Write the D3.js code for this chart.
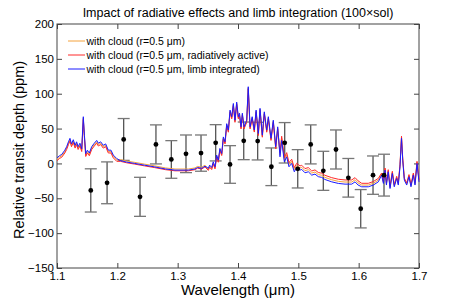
<!DOCTYPE html>
<html>
<head>
<meta charset="utf-8">
<title>Transit depth</title>
<script src="https://cdn.jsdelivr.net/npm/d3@7"></script>
<style>
body { margin: 0; background: #fff; }
text { font-family: "Liberation Sans", Arial, sans-serif; }
</style>
</head>
<body>
<svg id="chart" width="463" height="308"></svg>
<script>

// model spectra
var wl = [1.100,1.104,1.108,1.113,1.116,1.119,1.1215,1.124,1.127,1.130,1.1325,1.135,1.138,1.141,1.1436,1.1455,1.1476,1.1503,1.1536,1.1575,
  1.1618,1.1658,1.1685,1.1724,1.1767,1.1807,1.185,1.1895,1.1933,1.199,1.205,1.215,1.229,1.245,1.262,1.28,1.2956,1.3177,1.3287,1.333,
  1.3398,1.3453,1.3508,1.353,1.3564,1.359,1.3619,1.3646,1.3674,1.370,1.373,1.3757,1.3785,1.3813,1.384,1.3868,1.3896,1.3923,1.395,1.3978,
  1.4005,1.4025,1.405,1.4072,1.410,1.4144,1.417,1.420,1.4235,1.427,1.430,1.4337,1.4365,1.4403,1.4436,1.4476,1.4503,1.4547,1.4585,1.4625,
  1.4658,1.4696,1.4724,1.4768,1.4807,1.4845,1.489,1.4933,1.4973,1.5028,1.5056,1.511,1.5166,1.5222,1.5276,1.5331,1.5387,1.544,1.5553,1.5663,
  1.5774,1.5885,1.594,1.599,1.605,1.616,1.6243,1.6326,1.638,1.641,1.6437,1.646,1.649,1.652,1.6558,1.659,1.663,1.6657,1.6685,1.671,
  1.673,1.6757,1.6796,1.6834,1.6867,1.6906,1.6934,1.6967,1.700];

var cloud = [6,9,11,17,22,29,34,26,32,24,29,22,27,19,65,38,12,17,13,22,
  27,31,27,29,24,26,17,17,10,5,5.5,3.5,1.5,-1,-3.5,-6.5,-8,-8,-6.5,-4.3,
  -5.5,-2.5,-8.5,-3.9,-7.3,0.8,-6.3,10.5,3.2,20,12.8,36.5,29.5,55.5,46.3,75,65.5,84.5,60.5,86.5,
  65.5,70.5,51,70.5,51,60.5,108.5,51,65.5,46.5,75,41.5,77.5,39.1,72.5,46.3,65.5,34.5,60.5,22.5,
  51,12.5,36,5.3,12.5,-1.8,3,-9,-2.8,-6.6,-5.6,-10.4,-9,-13.8,-12.3,-16,-17,-20,-23.4,-25.7,
  -26.7,-26.7,-23.4,-28,-31,-31,-28.5,-23.9,-15.3,-27.2,-8.1,-29.5,-10.5,-34.5,-12.8,-32,-20,-29.5,-3.3,37.5,
  6.2,-22.5,-29.5,-17.5,-32,-15.3,-29.5,1.5,-24.9];

var cloudRad = [4,7,9,15,20,27,32,24,30,22,27,20,25,17,63,36,10,15,11,20,
  25,29,25,27,22,24,15,15,8,3,3,1,-1,-3.5,-6,-9,-10.6,-10.6,-9,-6.8,
  -8,-5,-10,-5.4,-8.8,-0.7,-7.8,9,1.7,18.5,11.3,35,28,54,44.8,73.5,64,83,59,85,
  64,69,49.5,69,49.5,59,107,49.5,64,45,73.5,40,76,37.6,71,44.8,64,33,59,21,
  49.5,15.5,39,8.3,15.5,1.2,6,-6,0.2,-3.6,-2.6,-7.4,-6,-10.8,-9.3,-13,-14,-17,-20.4,-22.7,
  -23.7,-23.7,-20.4,-25,-28.5,-28.5,-26,-21.4,-13.8,-25.7,-6.6,-28,-9,-33,-11.3,-30.5,-18.5,-28,-1.8,39,
  7.7,-21,-28,-16,-30.5,-13.8,-28,3,-23.4];

var cloudLimb = [8,11,13,19,24,31,36,28,34,26,31,24,29,21,67,40,14,19,15,24,
  29,33,29,31,26,28,19,19,12,7,4,2,0,-2.5,-5,-8,-9.6,-9.6,-8,-5.8,
  -7,-4,-7,-2.4,-5.8,2.3,-4.8,12,4.7,21.5,14.3,38,31,57,47.8,76.5,67,86,62,88,
  67,72,52.5,72,52.5,62,110,52.5,67,48,76.5,43,79,40.6,74,47.8,67,36,62,24,
  52.5,9.5,33,2.3,9.5,-4.8,0,-12,-5.8,-9.6,-8.6,-13.4,-12,-16.8,-15.3,-19,-20,-23,-26.4,-28.7,
  -29.7,-29.7,-26.4,-31,-33.5,-33.5,-31,-26.4,-16.8,-28.7,-9.6,-31,-12,-36,-14.3,-33.5,-21.5,-31,-4.8,36,
  4.7,-24,-31,-19,-33.5,-16.8,-31,0,-26.4];

// observed points with 1-sigma errors
var obsWl  = [1.156,1.183,1.2105,1.2376,1.264,1.2895,1.3138,1.3387,1.363,1.3868,1.4095,1.4326,1.4553,1.4774,1.499,1.5205,1.5414,1.5624,1.5829,1.6034,1.6238,1.642];
var obsVal = [-38.7,-27.8,34.4,-47.9,27.3,5.7,13.8,14.8,29.6,-1.5,32.4,32,-4.8,29.6,-7.7,27.3,-10.6,20,-20.6,-65,-16.8,-16.8];
var obsErr = [31,30,30,28,28,27,27,26,26,27,27,27,27,29,27.5,28,28,28,27.7,27.5,27.5,30];

var xTicks = [1.1,1.2,1.3,1.4,1.5,1.6,1.7];
var yTicks = [-150,-100,-50,0,50,100,150,200];

var seriesNames = ["with cloud (r=0.5 \u03bcm)", "with cloud (r=0.5 \u03bcm, radiatively active)", "with cloud (r=0.5 \u03bcm, limb integrated)"];
var seriesColors = ["#f4a23c", "#ff2a2a", "#1a1aff"];

var pL = 57, pR = 419, pT = 24, pB = 268;

var svg = d3.select("#chart");

var x = d3.scaleLinear().domain([1.1, 1.7]).range([pL, pR]);
var y = d3.scaleLinear().domain([-150, 200]).range([pB, pT]);

var axisColor = "#444";

// title
svg.append("text")
  .attr("x", (pL + pR) / 2).attr("y", 17)
  .attr("text-anchor", "middle")
  .style("font-size", "12.5px")
  .text("Impact of radiative effects and limb integration (100\u00d7sol)");

// axes, ticks inward on all four sides
var gx = svg.append("g").attr("transform", "translate(0," + pB + ")")
  .call(d3.axisBottom(x).tickValues(xTicks).tickFormat(d3.format(".1f")).tickSizeInner(-5).tickSizeOuter(0).tickPadding(4));
var gxt = svg.append("g").attr("transform", "translate(0," + pT + ")")
  .call(d3.axisTop(x).tickValues(xTicks).tickFormat("").tickSizeInner(-5).tickSizeOuter(0));
var gy = svg.append("g").attr("transform", "translate(" + pL + ",0)")
  .call(d3.axisLeft(y).tickValues(yTicks).tickFormat(function(d) { return d < 0 ? "\u2212" + (-d) : d; }).tickSizeInner(-5).tickSizeOuter(0).tickPadding(3));
var gyr = svg.append("g").attr("transform", "translate(" + pR + ",0)")
  .call(d3.axisRight(y).tickValues(yTicks).tickFormat("").tickSizeInner(-5).tickSizeOuter(0));

[gx, gxt, gy, gyr].forEach(function(g) {
  g.select(".domain").remove();
  g.selectAll("line").attr("stroke", axisColor);
  g.selectAll("text").attr("fill", "#000").style("font-size", "11.5px")
    .style("font-family", "Liberation Sans, Arial, sans-serif");
});

svg.append("rect")
  .attr("x", pL).attr("y", pT)
  .attr("width", pR - pL).attr("height", pB - pT)
  .attr("fill", "none").attr("stroke", axisColor).attr("stroke-width", 1);

// axis labels
svg.append("text")
  .attr("x", (pL + pR) / 2).attr("y", 295)
  .attr("text-anchor", "middle")
  .style("font-size", "15px")
  .text("Wavelength (\u03bcm)");

svg.append("text")
  .attr("transform", "translate(24,150) rotate(-90)")
  .attr("text-anchor", "middle")
  .style("font-size", "14.5px")
  .text("Relative transit depth (ppm)");

// error bars
var plot = svg.append("g");
var obs = obsWl.map(function(w, i) { return { w: w, v: obsVal[i], e: obsErr[i] }; });

plot.selectAll("line.err").data(obs).enter().append("line")
  .attr("class", "err")
  .attr("x1", function(d) { return x(d.w); }).attr("x2", function(d) { return x(d.w); })
  .attr("y1", function(d) { return y(d.v + d.e); }).attr("y2", function(d) { return y(d.v - d.e); })
  .attr("stroke", "#555").attr("stroke-width", 1.3);

[1, -1].forEach(function(s) {
  plot.selectAll("line.cap" + s).data(obs).enter().append("line")
    .attr("x1", function(d) { return x(d.w) - 6; }).attr("x2", function(d) { return x(d.w) + 6; })
    .attr("y1", function(d) { return y(d.v + s * d.e); }).attr("y2", function(d) { return y(d.v + s * d.e); })
    .attr("stroke", "#777").attr("stroke-width", 1.3);
});

// model lines
var series = [cloud, cloudRad, cloudLimb];
var line = d3.line()
  .x(function(d) { return x(d[0]); })
  .y(function(d) { return y(d[1]); });

series.forEach(function(vals, k) {
  plot.append("path")
    .datum(wl.map(function(w, i) { return [w, vals[i]]; }))
    .attr("d", line)
    .attr("fill", "none")
    .attr("stroke", seriesColors[k])
    .attr("stroke-width", 1);
});

plot.selectAll("circle").data(obs).enter().append("circle")
  .attr("cx", function(d) { return x(d.w); })
  .attr("cy", function(d) { return y(d.v); })
  .attr("r", 2.4)
  .attr("fill", "#000");

// legend
var lg = svg.append("g");
seriesNames.forEach(function(name, k) {
  var ly = 41 + k * 14;
  lg.append("line").attr("x1", 68).attr("x2", 85).attr("y1", ly).attr("y2", ly)
    .attr("stroke", seriesColors[k]).attr("stroke-width", 1);
  lg.append("text").attr("x", 86.5).attr("y", ly + 3.7)
    .style("font-size", "10.5px")
    .text(name);
});

</script>
</body>
</html>
